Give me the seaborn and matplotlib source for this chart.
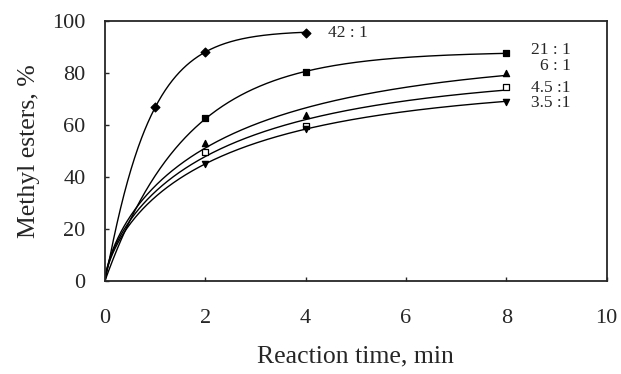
import matplotlib

matplotlib.use("Agg")
import matplotlib.pyplot as plt
import numpy as np
import seaborn as sns

# molar ratio methanol : oil -> measured points (time in min, methyl esters %)
ratios = ["42 : 1", "21 : 1", "6 : 1", "4.5 :1", "3.5 :1"]
times = {
    "42 : 1": [0, 1, 2, 4],
    "21 : 1": [0, 2, 4, 8],
    "6 : 1": [0, 2, 4, 8],
    "4.5 :1": [0, 2, 4, 8],
    "3.5 :1": [0, 2, 4, 8],
}
esters = {
    "42 : 1": [0, 67, 88, 95.5],
    "21 : 1": [0, 62.5, 80.5, 87.5],
    "6 : 1": [0, 53, 64, 80],
    "4.5 :1": [0, 49.5, 59.5, 74.5],
    "3.5 :1": [0, 45, 58.5, 69],
}
markers = {"42 : 1": "D", "21 : 1": "s", "6 : 1": "^", "4.5 :1": "s", "3.5 :1": "v"}
filled = {"42 : 1": True, "21 : 1": True, "6 : 1": True, "4.5 :1": False, "3.5 :1": True}
label_pos = {
    "42 : 1": (4.45, 95.5, "left"),
    "21 : 1": (9.28, 89.0, "right"),
    "6 : 1": (9.28, 82.8, "right"),
    "4.5 :1": (9.28, 74.3, "right"),
    "3.5 :1": (9.28, 68.3, "right"),
}

N_GRID = np.linspace(0.7, 2.0, 66)
TAU_GRID = np.logspace(-1.5, 2.5, 300)


def best_for_n(t, y, n):
    """Best (err, a, tau) of y = a*(1 - exp(-(t/tau)**n)) for a fixed n."""
    best = None
    for tau in TAU_GRID:
        g = 1 - np.exp(-((t / tau) ** n))
        a = np.dot(g, y) / np.dot(g, g)
        err = np.sum((a * g - y) ** 2)
        if best is None or err < best[0]:
            best = (err, a, tau)
    return best


def fit_group(names):
    """Fit the listed series with one shared exponent n."""
    data = [(np.asarray(times[r], float), np.asarray(esters[r], float)) for r in names]
    best = None
    for n in N_GRID:
        fits = [best_for_n(t, y, n) for t, y in data]
        total = sum(f[0] for f in fits)
        if best is None or total < best[0]:
            best = (total, n, fits)
    _, n, fits = best
    curves = {}
    for r, (t, _), (_, a, tau) in zip(names, data, fits):
        tt = np.linspace(0, t.max(), 400)
        curves[r] = (tt, a * (1 - np.exp(-((tt / tau) ** n))))
    return curves


curves = fit_group(["42 : 1"])
curves.update(fit_group(["21 : 1"]))
curves.update(fit_group(["6 : 1", "4.5 :1", "3.5 :1"]))

sns.set_style("ticks")
plt.rcParams["font.family"] = ["Liberation Serif", "DejaVu Serif"]

fig = plt.figure(figsize=(6.21, 3.74), dpi=100)
ax = fig.add_axes([0.169, 0.249, 0.808, 0.695])

for r in ratios:
    tt, yy = curves[r]
    sns.lineplot(x=tt, y=yy, ax=ax, color="black", lw=1.0, sort=False)
    sns.scatterplot(
        x=times[r][1:],
        y=esters[r][1:],
        ax=ax,
        marker=markers[r],
        s=20,
        color="black" if filled[r] else "white",
        edgecolor="black",
        linewidth=0.9,
        zorder=3,
    )
    x, y, ha = label_pos[r]
    ax.text(x, y, r, ha=ha, va="center", fontsize=12.5)

ax.set_xlim(0, 10)
ax.set_ylim(0, 100)
ax.set_xticks(range(0, 11, 2))
ax.set_yticks(range(0, 101, 20))
ax.tick_params(direction="in", length=3, labelsize=16, width=1)
ax.tick_params(axis="x", pad=20)
ax.tick_params(axis="y", pad=14)
ax.set_xlabel("Reaction time, min", fontsize=18.5, labelpad=13)
ax.set_ylabel("Methyl esters, %", fontsize=18.5, labelpad=9)
for s in ax.spines.values():
    s.set_visible(True)
    s.set_linewidth(1.3)

fig.savefig("out.png", dpi=100)
